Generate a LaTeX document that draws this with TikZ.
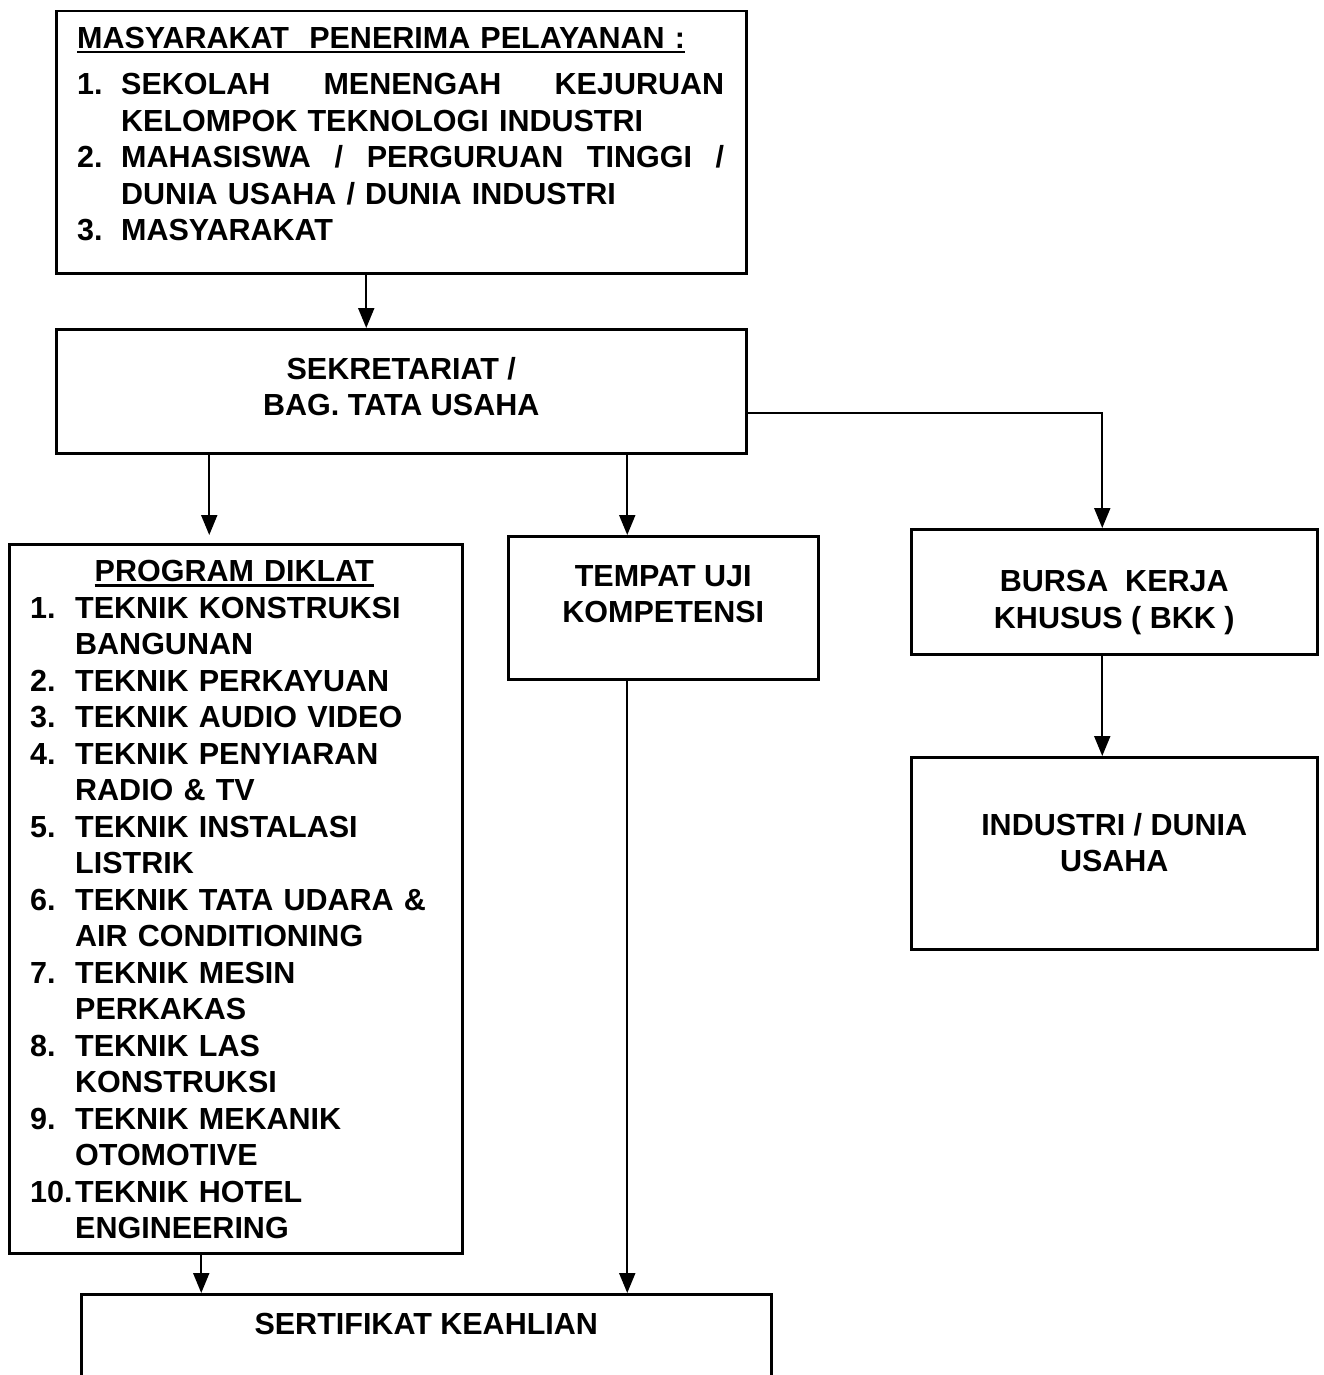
\documentclass[tikz,border=0pt]{standalone}
\usepackage{fontspec}
\setmainfont{Liberation Sans}
\usetikzlibrary{positioning}
\usetikzlibrary{arrows.meta}

\newcommand{\headline}[1]{\setbox0\hbox{#1}\rlap{\rule[-5pt]{\wd0}{2.6pt}}\box0}
\newcommand{\numitem}[2]{\par\noindent\hangindent=#2\hangafter=1\makebox[#2][l]{#1}\ignorespaces}

\begin{document}
\begin{tikzpicture}[
  x=1pt, y=-1pt,
  font=\fontsize{30.5}{36.5}\selectfont\bfseries,
  box/.style={draw, line width=2.5pt, inner sep=0pt, anchor=north west},
  label/.style={inner sep=0pt, align=center},
  listtext/.style={inner sep=0pt},
  arrow/.style={-{Triangle[length=20pt,width=16pt]}, line width=2pt}
]
\clip (0,0) rectangle (1323,1375);

% boxes
\node[box, minimum width=690pt, minimum height=262pt] (masy) at (55,10) {};
\node[box, minimum width=690pt, minimum height=124pt] (sekr) at (55,328) {};
\node[box, minimum width=453pt, minimum height=709pt] (prog) at (8,543) {};
\node[box, minimum width=310pt, minimum height=143pt] (tuk) at (507,535) {};
\node[box, minimum width=406pt, minimum height=125pt] (bkk) at (910,528) {};
\node[box, minimum width=406pt, minimum height=192pt] (ind) at (910,756) {};
\node[box, minimum width=690pt, minimum height=150pt] (sert) at (80,1293) {};

% texts
\node[listtext, text width=647pt, below right=17pt and 22pt of masy.north west] (masytext) {%
  \raggedright
  \noindent\headline{MASYARAKAT\ \ PENERIMA PELAYANAN :}\par\vspace{10pt}
  \numitem{1.}{44pt}SEKOLAH\hfill MENENGAH\hfill KEJURUAN\linebreak KELOMPOK TEKNOLOGI INDUSTRI
  \numitem{2.}{44pt}MAHASISWA\hfill /\hfill PERGURUAN\hfill TINGGI\hfill /\linebreak DUNIA USAHA / DUNIA INDUSTRI
  \numitem{3.}{44pt}MASYARAKAT\par};
\node[label, below=29pt of sekr.north] (sekrtext) {SEKRETARIAT /\\BAG. TATA USAHA};
\node[listtext, text width=408pt, below right=17pt and 22pt of prog.north west] (progtext) {%
  \raggedright
  {\centering\headline{PROGRAM DIKLAT}\par}
  \numitem{1.}{45pt}TEKNIK KONSTRUKSI\newline BANGUNAN
  \numitem{2.}{45pt}TEKNIK PERKAYUAN
  \numitem{3.}{45pt}TEKNIK AUDIO VIDEO
  \numitem{4.}{45pt}TEKNIK PENYIARAN\newline RADIO \& TV
  \numitem{5.}{45pt}TEKNIK INSTALASI\newline LISTRIK
  \numitem{6.}{45pt}TEKNIK TATA UDARA \&\newline AIR CONDITIONING
  \numitem{7.}{45pt}TEKNIK MESIN\newline PERKAKAS
  \numitem{8.}{45pt}TEKNIK LAS\newline KONSTRUKSI
  \numitem{9.}{45pt}TEKNIK MEKANIK\newline OTOMOTIVE
  \numitem{10.}{45pt}TEKNIK HOTEL\newline ENGINEERING\par};
\node[label, below=30pt of tuk.north] (tuktext) {TEMPAT UJI\\KOMPETENSI};
\node[label, below=42pt of bkk.north] (bkktext) {BURSA\ \ KERJA\\KHUSUS ( BKK )};
\node[label, below=57pt of ind.north] (indtext) {INDUSTRI / DUNIA\\USAHA};
\node[label, below=20pt of sert.north] (serttext) {SERTIFIKAT KEAHLIAN};

% connectors
\draw[arrow] ([xshift=-35pt]masy.south) -- ([xshift=-35pt]sekr.north);
\draw[arrow] ([xshift=-192pt]sekr.south) -- ([xshift=-26.5pt,yshift=8pt]prog.north);
\draw[arrow] ([xshift=226pt]sekr.south) -- ([xshift=-36pt]tuk.north);
\draw[arrow] ([yshift=-22pt]sekr.east) -| ([xshift=-12pt]bkk.north);
\draw[arrow] ([xshift=-12pt]bkk.south) -- ([xshift=-12pt]ind.north);
\draw[arrow] ([xshift=-34.5pt]prog.south) -- ([xshift=-225pt]sert.north);
\draw[arrow] ([xshift=-36pt]tuk.south) -- ([xshift=201pt]sert.north);

\end{tikzpicture}
\end{document}
